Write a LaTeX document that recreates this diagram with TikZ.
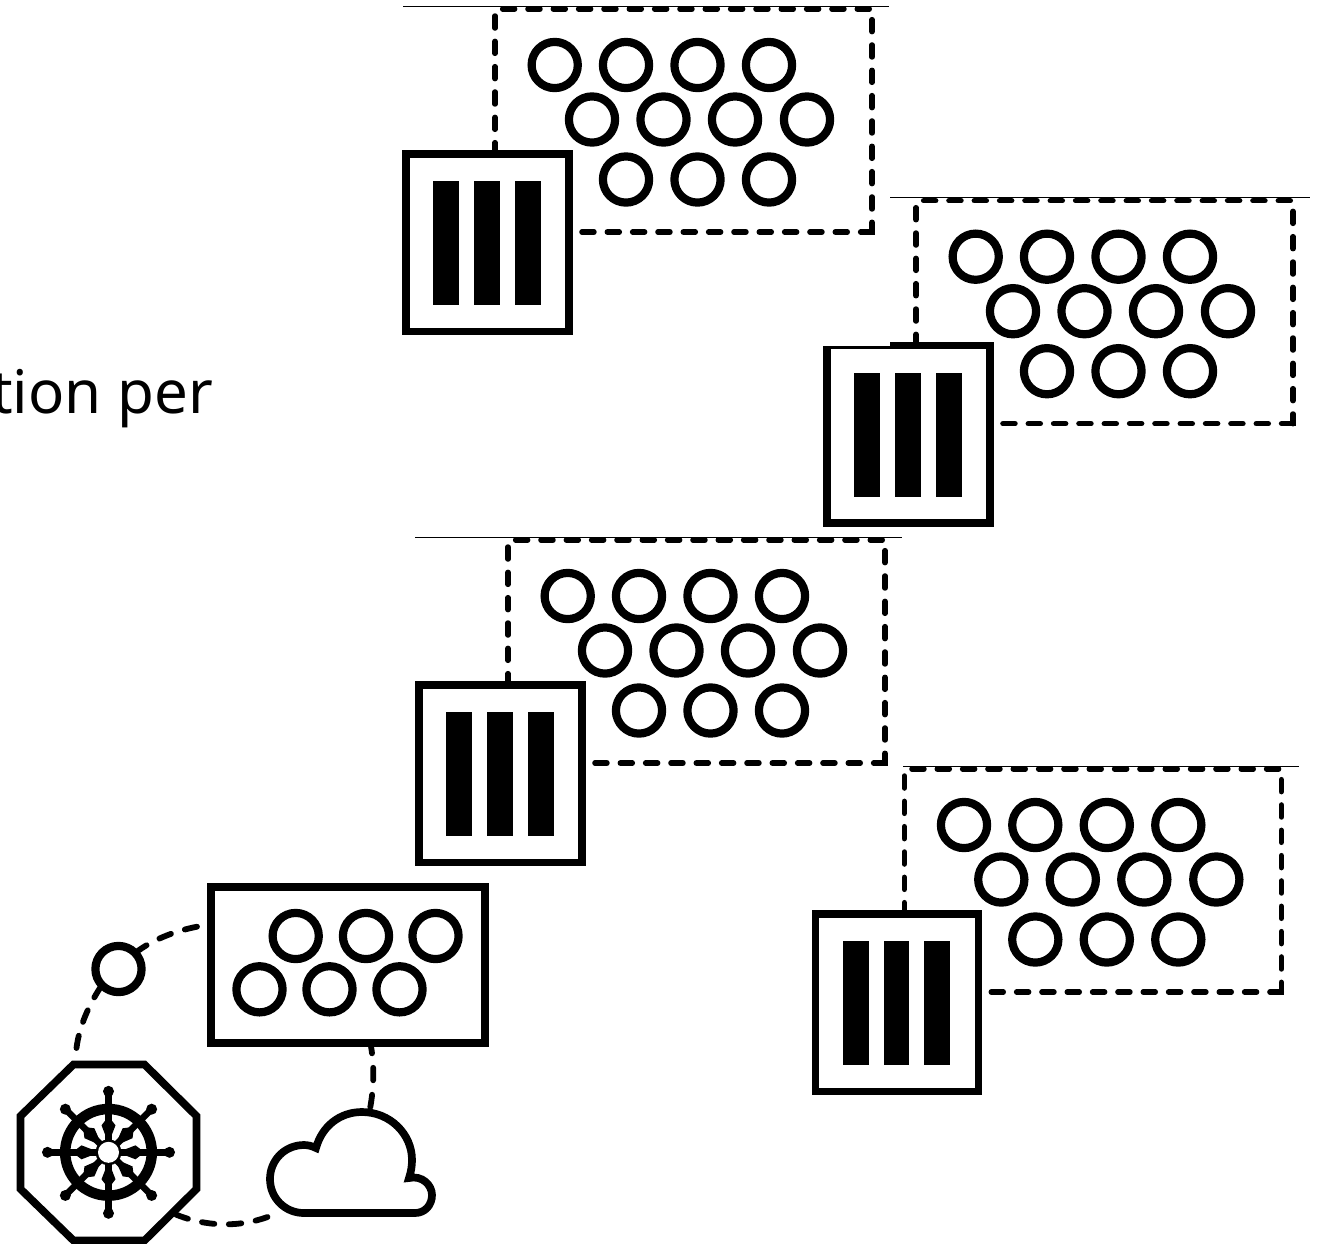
\documentclass[tikz,border=0pt]{standalone}
\usepackage{fontspec}
\setmainfont{Noto Sans}
\tikzset{
  x=1pt,y=-1pt,
  ring/.style={circle,draw=black,line width=8.2pt,fill=white,minimum size=46.2pt,inner sep=0pt,outer sep=0pt},
  smallbox/.style={draw=black,line width=7.7pt,fill=white},
  bigdash/.style={draw=black,line width=5.5pt,line cap=round,dash pattern=on 12pt off 13.33pt},
  conn/.style={draw=black,line width=5.8pt,line cap=round,dash pattern=on 12.5pt off 14.5pt},
  thinline/.style={draw=black,line width=1pt},
  spoke/.style={draw=black,line width=6.5pt,line cap=round},
}
\newcommand{\podgroup}[5]{%
  % #1 name, #2 dx, #3 dy, #4 thin line left, #5 thin line right
  \begin{scope}[shift={(#2,#3)}]
    \draw[bigdash] (502.65,9) -- (870,9);
    \draw[bigdash] (872,19.65) -- (872,232);
    \draw[bigdash,dash phase=0.6pt] (872,232) -- (575,232);
    \draw[bigdash] (495,16) -- (495,160);
    \fill[black] (867,229.25) rectangle (874.75,234.75);
    \foreach \cx/\n in {554.7/a,626/b,697.5/c,769/d}
      \node[ring] (#1r1\n) at (\cx,65) {};
    \foreach \cx/\n in {592/a,663.5/b,735/c,807/d}
      \node[ring] (#1r2\n) at (\cx,119.5) {};
    \foreach \cx/\n in {626/a,697.5/b,769/c}
      \node[ring] (#1r3\n) at (\cx,179.5) {};
    \draw[smallbox] (406.2,153.7) rectangle (569.3,331.5);
    \fill[black] (433.3,181) rectangle (459.3,305);
    \fill[black] (474.3,181) rectangle (500,305);
    \fill[black] (514.7,181) rectangle (540.7,305);
  \end{scope}
  \draw[thinline] (#4,{#3+6}) -- (#5,{#3+6});
}
\begin{document}
\begin{tikzpicture}
\useasboundingbox (0,0) rectangle (1324,1243);
\clip (0,0) rectangle (1324,1243);
\fill[white] (0,0) rectangle (1324,1243);

\podgroup{A}{0}{0}{403}{889}
\podgroup{B}{421}{191.7}{890}{1310}
\fill[white] (815,335) rectangle (890,346);
\podgroup{C}{13}{531}{415}{902}
\podgroup{D}{409.3}{760}{903}{1299}

\node[anchor=base east,font=\fontsize{60pt}{68pt}\selectfont,inner sep=0pt] (label) at (213,413) {tion per};

% connector anchors
\coordinate (octN) at (76.5,1048);
\coordinate (octE) at (170,1212);
\coordinate (circS) at (104,982);
\coordinate (circE) at (130,957);
\coordinate (rectW) at (197,926.7);
\coordinate (rectS) at (370,1041);
\coordinate (cloudN) at (369,1114);
\coordinate (cloudW) at (267.5,1217);

\draw[conn] (octN) .. controls (79,1028) and (88,1005) .. (circS);
\draw[conn] (rectW) .. controls (175,931) and (150,940) .. (circE);
\draw[conn] (rectS) .. controls (375,1065) and (374,1090) .. (cloudN);
\draw[conn] (cloudW) .. controls (240,1227) and (205,1228) .. (octE);

% small circle
\node[ring] (pod) at (118.5,969) {};

% box
\draw[smallbox] (211.2,887) rectangle (485,1043);
\foreach \cx/\n in {295.7/a,366/b,435.5/c}
  \node[ring] (Pr1\n) at (\cx,936) {};
\foreach \cx/\n in {259.5/a,329.5/b,399.5/c}
  \node[ring] (Pr2\n) at (\cx,989.3) {};

% cloud
\draw[black,line width=7.7pt,fill=white,line join=miter]
  (415,1213) -- (304,1213)
  .. controls (285,1213) and (270,1198) .. (270,1179)
  .. controls (270,1160) and (285,1145) .. (304,1145)
  .. controls (308,1145) and (312,1146) .. (316,1148)
  .. controls (322,1126) and (340,1112) .. (362,1112)
  .. controls (390,1112) and (412,1134) .. (412,1160)
  .. controls (412,1166) and (411,1172) .. (409,1178)
  .. controls (422,1175) and (432,1185) .. (432,1195)
  .. controls (432,1205) and (425,1213) .. (415,1213) -- cycle;

% octagon
\draw[black,line width=7.7pt,fill=white,line join=miter]
  (73.5,1064.5) -- (144.5,1064.5) -- (196.5,1116) -- (196.5,1189) -- (144.5,1240.5) -- (73.5,1240.5) -- (20.5,1189) -- (20.5,1116) -- cycle;

% helm wheel
\begin{scope}[shift={(108.5,1152.3)}]
  \draw[black,line width=10.5pt] (0,0) circle[radius=43.3];
  \foreach \a in {0,45,...,315} {
    \begin{scope}[rotate=\a]
      \draw[spoke] (0,0) -- (61,0);
      \fill[black] (11,0) -- (18,-3.5) -- (27,-7) -- (36,0) -- (27,7) -- (18,3.5) -- cycle;
      \fill[black] (61,0) circle[radius=5.5];
    \end{scope}
  }
  \fill[black] (0,0) circle[radius=13];
  \fill[white] (0,0) circle[radius=10.5];
\end{scope}
\end{tikzpicture}
\end{document}
